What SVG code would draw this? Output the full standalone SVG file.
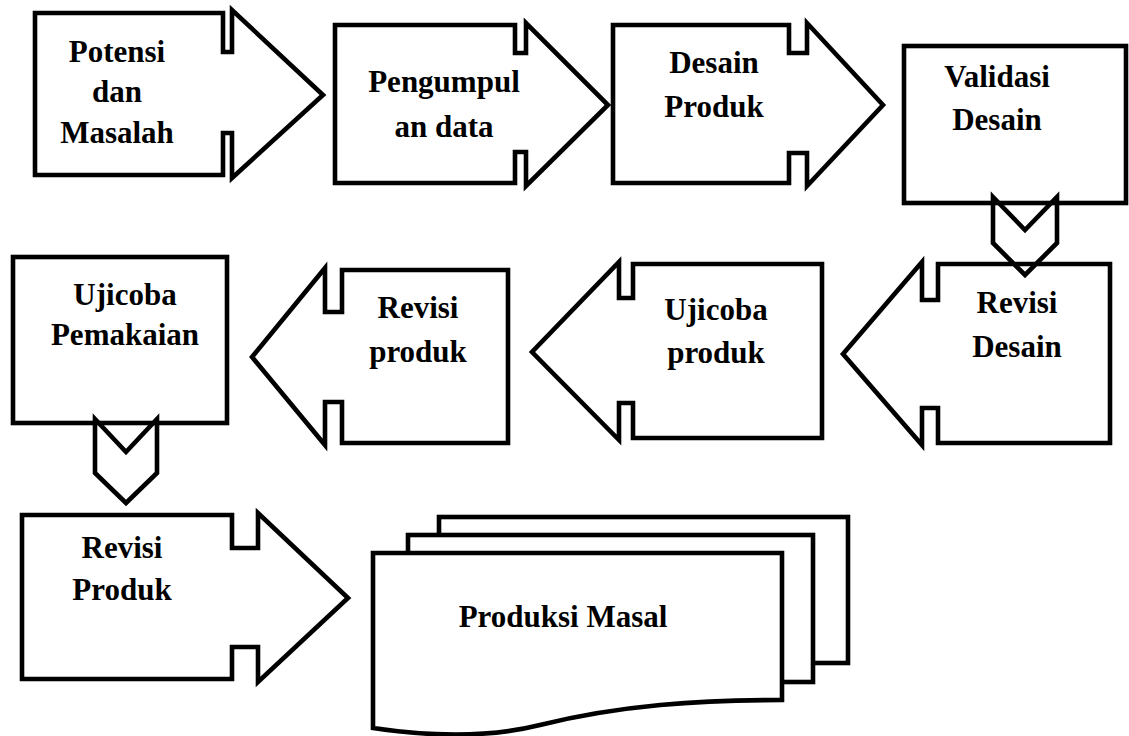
<svg xmlns="http://www.w3.org/2000/svg" width="1129" height="736" viewBox="0 0 1129 736">
  <style>
    .shape { fill: #ffffff; stroke: #000000; stroke-width: 4.6; stroke-linejoin: miter; }
    .link { fill: none; stroke: #000000; stroke-width: 4.6; stroke-linejoin: miter; }
    .label { font-family: "Liberation Serif", "Times New Roman", serif; font-weight: bold; font-size: 31px; fill: #000000; text-anchor: middle; }
  </style>
  <rect width="1129" height="736" fill="#ffffff"/>

  <!-- Row 1: left to right -->
  <g id="potensi-dan-masalah">
    <path class="shape" d="M35,13 H223 V52 H232 V10 L323,95 L232,178 V133 H223 V175 H35 Z"/>
    <text class="label" x="117" y="62">Potensi</text>
    <text class="label" x="117" y="102">dan</text>
    <text class="label" x="117" y="143">Masalah</text>
  </g>

  <g id="pengumpulan-data">
    <path class="shape" d="M335,25 H515 V53 H526 V23 L608,105 L526,186 V152 H515 V183 H335 Z"/>
    <text class="label" x="444" y="92">Pengumpul</text>
    <text class="label" x="444" y="137">an data</text>
  </g>

  <g id="desain-produk">
    <path class="shape" d="M613,25 H789 V53 H807 V23 L883,105 L807,186 V153 H789 V183 H613 Z"/>
    <text class="label" x="714" y="73">Desain</text>
    <text class="label" x="714" y="117">Produk</text>
  </g>

  <g id="validasi-desain">
    <rect class="shape" x="904" y="46" width="222" height="157"/>
    <text class="label" x="997" y="87">Validasi</text>
    <text class="label" x="997" y="130">Desain</text>
  </g>

  <!-- Row 2: right to left -->
  <g id="revisi-desain">
    <path class="shape" d="M1110,264 V443 H938 V408 H922 V445 L843,354 L922,262 V300 H938 V264 Z"/>
    <text class="label" x="1017" y="313">Revisi</text>
    <text class="label" x="1017" y="357">Desain</text>
  </g>

  <g id="ujicoba-produk">
    <path class="shape" d="M822,264 V438 H633 V403 H619 V440 L532,352 L619,262 V298 H633 V264 Z"/>
    <text class="label" x="716" y="320">Ujicoba</text>
    <text class="label" x="716" y="363">produk</text>
  </g>

  <g id="revisi-produk-1">
    <path class="shape" d="M508,270 V443 H342 V402 H325 V445 L252,357 L325,268 V312 H342 V270 Z"/>
    <text class="label" x="418" y="318">Revisi</text>
    <text class="label" x="418" y="362">produk</text>
  </g>

  <g id="ujicoba-pemakaian">
    <rect class="shape" x="13" y="257" width="214" height="166"/>
    <text class="label" x="125" y="305">Ujicoba</text>
    <text class="label" x="125" y="345">Pemakaian</text>
  </g>

  <!-- Row 3 -->
  <g id="revisi-produk-2">
    <path class="shape" d="M22,515 H232 V548 H258 V513 L348,598 L258,682 V647 H232 V679 H22 Z"/>
    <text class="label" x="122" y="558">Revisi</text>
    <text class="label" x="122" y="600">Produk</text>
  </g>

  <g id="produksi-masal">
    <rect class="shape" x="439" y="517" width="409" height="146"/>
    <rect class="shape" x="408" y="535" width="405" height="147"/>
    <path class="shape" d="M373,553 H782 V700 C700,700 620,705 540,725 C480,740 420,735 373,728 Z"/>
    <text class="label" x="563" y="627">Produksi Masal</text>
  </g>

  <!-- Downward chevron connectors between rows -->
  <g id="connectors">
    <path class="link" d="M993,197 L1025,230 L1057,197 V243 L1025,275 L993,243 Z"/>
    <path class="link" d="M95,419 L126,452 L157,419 V473 L126,503 L95,473 Z"/>
  </g>
</svg>
